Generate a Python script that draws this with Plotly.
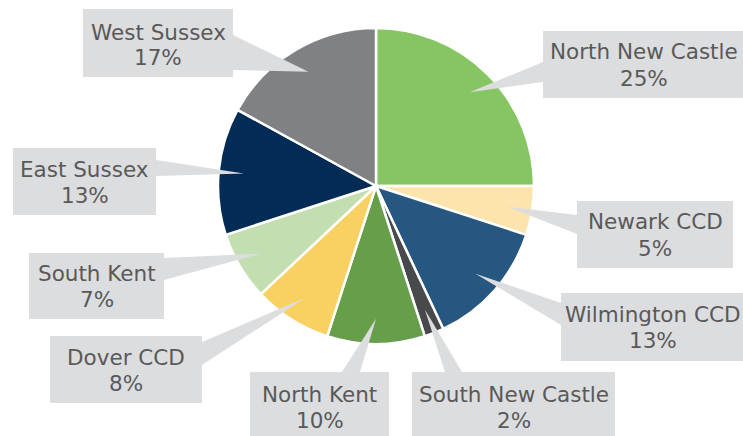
import math
import plotly.graph_objects as go

# Regional shares (percent), listed clockwise from 12 o'clock
regions = ["North New Castle", "Newark CCD", "Wilmington CCD", "South New Castle",
           "North Kent", "Dover CCD", "South Kent", "East Sussex", "West Sussex"]
shares = [25, 5, 13, 2, 10, 8, 7, 13, 17]
colors = ["#86C662", "#FCE4AC", "#255781", "#47494C", "#679E4A",
          "#F9D062", "#C3DFB1", "#022B56", "#808184"]

W, H = 743, 436
CX, CY, R = 376, 186, 158  # pie centre and radius in pixels

# Callout boxes (pixel rectangles), the base of each pointer on the box edge,
# and the vertical centre of the two text lines
boxes = {
    "North New Castle": ((543, 31, 744, 98), ((543, 62), (543, 82)), 65),
    "Newark CCD": ((577, 201, 733, 268), ((577, 215), (577, 234)), 235),
    "Wilmington CCD": ((561, 293, 745, 361), ((561, 303), (561, 325)), 327),
    "South New Castle": ((412, 372, 615, 440), ((445, 372), (462, 372)), 407),
    "North Kent": ((250, 372, 389, 440), ((342, 372), (360, 372)), 407),
    "Dover CCD": ((50, 336, 202, 403), ((202, 342), (202, 365)), 370),
    "South Kent": ((29, 253, 164, 319), ((164, 258), (164, 280)), 286),
    "East Sussex": ((13, 148, 156, 215), ((156, 160), (156, 176)), 182),
    "West Sussex": ((83, 9, 233, 77), ((233, 35), (233, 70)), 45),
}

BOX_FILL = "#DCDDDE"
TEXT_COLOR = "#595959"
FONT = "DejaVu Sans"
FONT_SIZE = 21.5
LINE_GAP = 26


def px(x):
    return x / W


def py(y):
    return 1 - y / H


fig = go.Figure(go.Pie(
    labels=regions,
    values=shares,
    sort=False,
    direction="clockwise",
    rotation=0,
    marker=dict(colors=colors, line=dict(color="white", width=2.5)),
    textinfo="none",
    hoverinfo="label+percent",
    showlegend=False,
    domain=dict(x=[px(CX - R), px(CX + R)], y=[py(CY + R), py(CY - R)]),
))

shapes = []
annotations = []
total = sum(shares)
cum = 0.0
for name, val in zip(regions, shares):
    mid = (cum + val / 2) / total * 2 * math.pi
    cum += val
    # pointer tip sits inside the slice along its mid-angle
    tx = CX + 0.84 * R * math.sin(mid)
    ty = CY - 0.84 * R * math.cos(mid)
    (x0, y0, x1, y1), (b1, b2), yc = boxes[name]
    shapes.append(dict(
        type="path", xref="paper", yref="paper",
        path=f"M {px(b1[0])},{py(b1[1])} L {px(tx)},{py(ty)} L {px(b2[0])},{py(b2[1])} Z",
        fillcolor=BOX_FILL, line=dict(width=0), layer="above",
    ))
    shapes.append(dict(
        type="rect", xref="paper", yref="paper",
        x0=px(x0), x1=px(x1), y0=py(y1), y1=py(y0),
        fillcolor=BOX_FILL, line=dict(width=0), layer="above",
    ))
    lines = [name, f"{round(val / total * 100)}%"]
    for i, line in enumerate(lines):
        annotations.append(dict(
            xref="paper", yref="paper",
            x=px((x0 + x1) / 2), y=py(yc + (i - 0.5) * LINE_GAP),
            text=line,
            showarrow=False, xanchor="center", yanchor="middle",
            font=dict(family=FONT, size=FONT_SIZE, color=TEXT_COLOR),
        ))

fig.update_layout(
    width=W, height=H,
    margin=dict(l=0, r=0, t=0, b=0),
    paper_bgcolor="white",
    plot_bgcolor="white",
    shapes=shapes,
    annotations=annotations,
)

fig.write_html("out.html")
